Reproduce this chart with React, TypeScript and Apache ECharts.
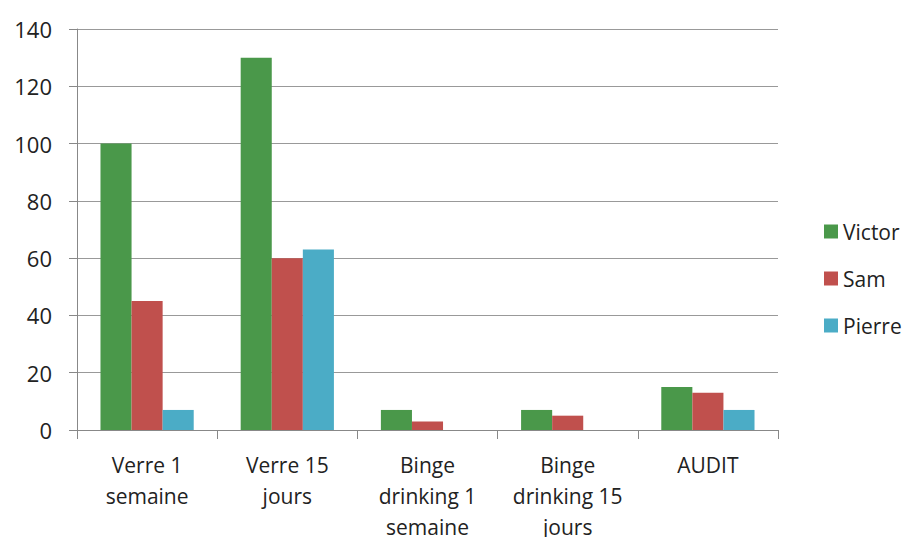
import React, { useEffect, useRef } from "react";
import * as echarts from "echarts";

const categories = [
  "Verre 1\nsemaine",
  "Verre 15\njours",
  "Binge\ndrinking 1\nsemaine",
  "Binge\ndrinking 15\njours",
  "AUDIT",
];
const victor = [100, 130, 7, 7, 15];
const sam = [45, 60, 3, 5, 13];
const pierre = [7, 63, 0, 0, 7];
const seriesNames = ["Victor", "Sam", "Pierre"];
const colors = ["#4A984A", "#C0504D", "#4BACC6"];

export default function App() {
  const ref = useRef<HTMLDivElement>(null);
  useEffect(() => {
    if (!ref.current) return;
    const chart = echarts.init(ref.current, undefined, { renderer: "svg" });
    const font = "'Open Sans', 'Liberation Sans', Arial, sans-serif";
    const data = [victor, sam, pierre];
    chart.setOption({
      animation: false,
      textStyle: { fontFamily: font },
      grid: {
        left: 77,
        top: 29,
        right: 126,
        bottom: 107,
        containLabel: false,
        outerBoundsMode: "none",
      },
      legend: {
        orient: "vertical",
        left: 819,
        top: 216,
        itemWidth: 14,
        itemHeight: 14,
        itemGap: 26,
        icon: "rect",
        textStyle: { fontSize: 21, color: "#222", fontFamily: font },
        data: seriesNames,
      },
      xAxis: {
        type: "category",
        data: categories,
        axisLine: { lineStyle: { color: "#888", width: 1 } },
        axisTick: { show: true, length: 9, lineStyle: { color: "#888" }, alignWithLabel: false },
        axisLabel: {
          interval: 0,
          fontSize: 21,
          color: "#222",
          lineHeight: 31,
          margin: 19,
          fontFamily: font,
        },
      },
      yAxis: {
        type: "value",
        min: 0,
        max: 140,
        interval: 20,
        axisLine: { show: true, lineStyle: { color: "#888" } },
        axisTick: { show: true, length: 8, lineStyle: { color: "#888" } },
        splitLine: { lineStyle: { color: "#999", width: 1 } },
        axisLabel: { fontSize: 22, color: "#222", margin: 25, fontFamily: font },
      },
      series: seriesNames.map((n, i) => ({
        name: n,
        type: "bar",
        data: data[i],
        barGap: "0%",
        barCategoryGap: "33.5%",
        itemStyle: { color: colors[i] },
      })),
    });
    return () => chart.dispose();
  }, []);
  return <div ref={ref} style={{ width: 904, height: 537, position: "absolute", left: 0, top: 0 }} />;
}
